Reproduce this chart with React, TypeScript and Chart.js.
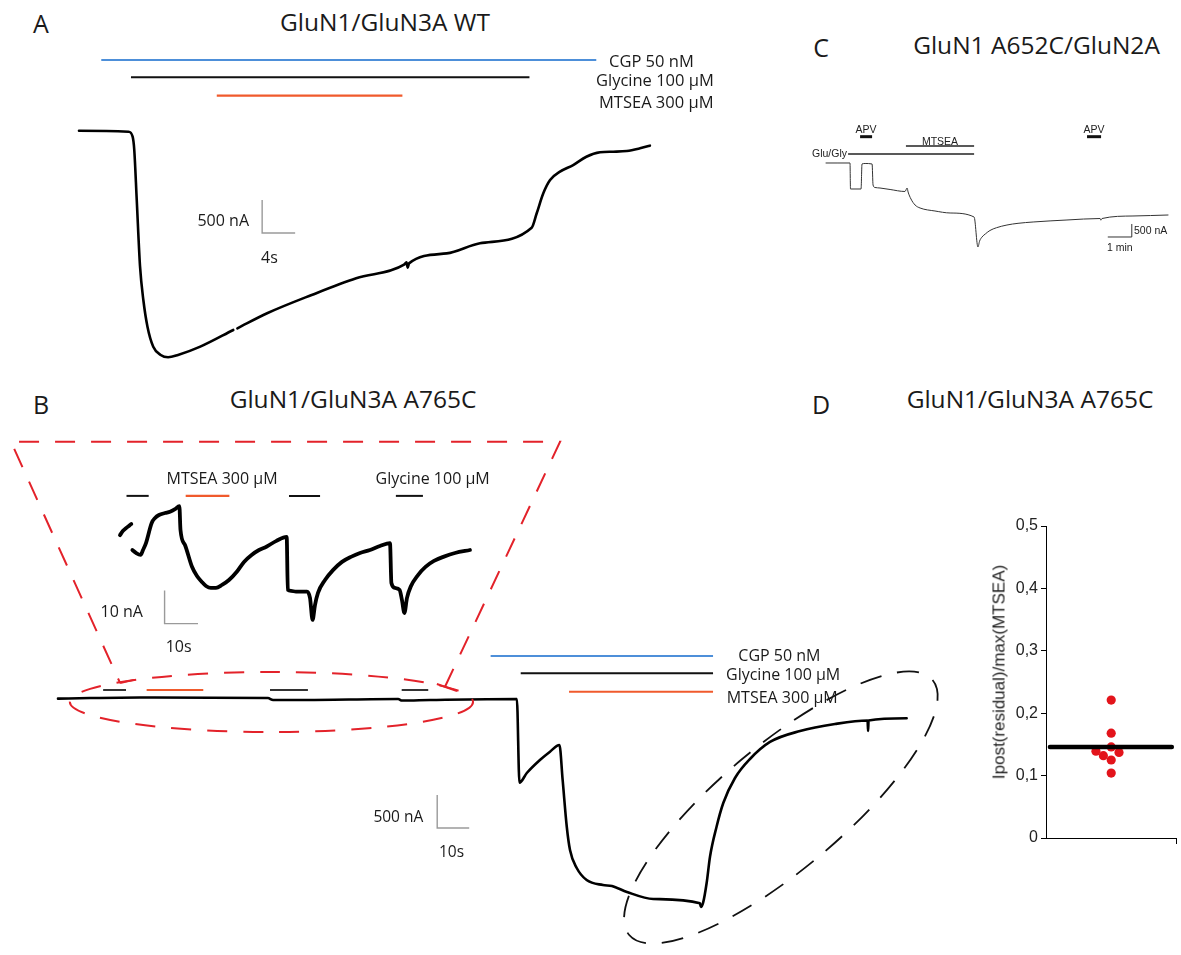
import React, { useEffect, useRef } from "react";
import { Chart, registerables } from "chart.js";
Chart.register(...registerables);

// ---------------- Panel A : GluN1/GluN3A WT (time s, current nA) ----------------
const A_T = [0, 6.0, 6.5, 6.7, 7.0, 7.4, 7.8, 8.3, 9.0, 9.9, 10.8, 12.0, 14.7, 18.7, 18.9, 19.2, 22.8, 28.2, 33.6, 39.4, 39.7, 39.85, 40.0, 44.57, 48.6, 54.87, 55.48, 56.28, 57.1, 58.3, 59.9, 61.5, 63.15, 64.76, 66.4, 68.0, 69.2];
const A_I = [0, -15, -91, -292, -1050, -2060, -2565, -2969, -3272, -3398, -3433, -3398, -3272, -3019, null, -2994, -2766, -2489, -2236, -2030, -1995, -2075, -2010, -1859, -1706, -1470, -1251, -948, -747, -621, -520, -394, -327, -318, -308, -267, -227];
const A_CGP = [2.7, 62.7];
const A_GLY = [6.3, 54.6];
const A_MTSEA = [16.7, 39.2];
const A_BAR_LEVELS = [1071, 809, 530];
const A_SCALE_T = [22.2, 26.2]; // 4 s
const A_SCALE_I = [-1050, -1550]; // 500 nA

// ---------------- Panel B : GluN1/GluN3A A765C main trace ----------------
const B_T = [0, 10, 25.6, 65.6, 67.2, 75.6, 106.3, 107.5, 116.3, 143.4, 144.2, 146.5, 150.6, 153.75, 156.7, 157.7, 159, 160, 162.1, 165.2, 170.3, 173.1, 177.8, 186, 200.6, 200.9, 201.6, 202.7, 203.75, 205.8, 207.9, 211.56, 216.25, 222.5, 231.9, 242.8, 253.0, 253.15, 253.3, 265.2];
const B_I = [5, 15, 23, 15, -15, -15, 0, -23, -15, 0, -1268, -1121, -924, -798, -697, -1227, -1939, -2288, -2560, -2742, -2818, -2833, -2924, -3030, -3095, -3151, -3086, -2788, -2389, -1935, -1576, -1197, -909, -651, -485, -379, -326, -485, -326, -292];
const B_CGP = [135.2, 204.7];
const B_GLY = [144.6, 204.7];
const B_MTSEA = [159.7, 204.7];
const B_BAR_LEVELS = [651, 389, 111];
const B_SMALL_GLY = [[14.1, 21.25], [66.25, 78.1], [107.4, 115.7]];
const B_SMALL_MTSEA = [27.7, 45.4];
const B_SMALL_LEVEL = 136;
const B_SCALE_T = [118.5, 128.5]; // 10 s
const B_SCALE_I = [-1454, -1954]; // 500 nA

// ---------------- Panel B inset (time s, current nA, relative) ----------------
const IN_T = [0, 0.9, 2.28, 3.0, 3.38, 3.5, 3.71, 4.79, 6.17, 6.89, 7.78, 9.49, 10.5, 11.68, 13.47, 14.97, 16.47, 17.78, 18.11, 19.46, 21.56, 23.05, 24.43, 25.75, 27.22, 28.74, 30.54, 32.63, 34.97, 37.13, 39.4, 41.62, 43.83, 46.71, 49.91, 50.25, 51.2, 52.69, 55.99, 56.89, 57.66, 58.38, 59.28, 61.38, 63.77, 66.47, 69.31, 71.86, 74.85, 77.84, 80.84, 81.26, 82.34, 83.71, 84.43, 85.15, 85.93, 87.04, 89.22, 91.47, 94.01, 97.0, 100.3, 104.79];
const IN_I = [4.5, 5.8, 7.0, 7.6, 7.9, null, 0, -0.9, -1.5, 0, 2.1, 8.2, 9.7, 10.6, 11.2, 11.6, 12.4, 13.3, 6.1, 1.5, -5.1, -7.9, -9.6, -10.9, -11.5, -11.5, -10.6, -9.1, -6.6, -3.6, -1.5, 0, 1.0, 2.7, 4.0, -12.1, -12.4, -12.6, -12.6, -14.5, -21.2, -16.7, -13.0, -9.1, -6.1, -3.6, -2.0, -0.9, 0, 1.2, 2.1, -10.0, -11.5, -12.1, -15.2, -19.1, -14.5, -11.1, -7.6, -5.1, -3.3, -2.0, -0.9, 0];
const IN_GLY = [[1.95, 8.59], [50.6, 59.9], [82.6, 90.7]];
const IN_MTSEA = [19.67, 32.75];
const IN_BAR_LEVEL = 16.4;
const IN_SCALE_T = [13.35, 23.35]; // 10 s
const IN_SCALE_I = [-12.3, -22.3]; // 10 nA

// ---------------- Panel C : GluN1 A652C/GluN2A (time min, current nA) ----------------
const C_T = [0, 1.0, 1.02, 1.46, 1.5, 1.63, 1.92, 1.96, 2.04, 2.25, 2.67, 3.29, 3.38, 3.42, 3.54, 3.71, 3.92, 4.54, 5.17, 6.17, 6.33, 6.4, 6.5, 6.65, 6.83, 7.1, 7.54, 8.0, 8.63, 10.04, 11.42, 11.45, 11.5, 12.79, 14.25];
const C_I = [0, 0, -1000, -1000, -38, -19, -38, -846, -942, -962, -1019, -1096, -962, -1115, -1385, -1615, -1731, -1846, -1923, -2077, -3231, -3000, -2846, -2720, -2596, -2490, -2385, -2320, -2269, -2192, -2135, -2200, -2135, -2038, -2000];
const C_GLU = [0.92, 6.17];
const C_MTSEA = [3.33, 6.17];
const C_APV = [[1.42, 1.92], [10.875, 11.46]];
const C_LEVELS = [346, 654, 1012];
const C_SCALE_T = [11.74, 12.74]; // 1 min
const C_SCALE_I = [-2346, -2846]; // 500 nA

// ---------------- Panel D : Ipost(residual)/max(MTSEA) ----------------
const D_X = [0.5, 0.5, 0.5, 0.5, 0.5, 0.383, 0.44, 0.56];
const D_Y = [0.221, 0.168, 0.146, 0.125, 0.104, 0.139, 0.132, 0.137];
const D_MEAN = 0.146;
const D_MEAN_X = [0.03, 0.965];
const D_TICKS = [0, 0.1, 0.2, 0.3, 0.4, 0.5];

// ---------------- styles ----------------
const BLUE = "#4d8fd9";
const ORANGE = "#f05a2c";
const RED = "#e3222a";
const INK = "#111111";
const GRAY = "#9a9a9a";
const MYRIAD = "'Open Sans', 'Noto Sans', sans-serif";
const ARIAL = "'Liberation Sans', Arial, sans-serif";

type P = { x: number; y: number | null };
const pts = (ts: number[], is: (number | null)[]): P[] => ts.map((t, i) => ({ x: t, y: is[i] }));
const hseg = (r: number[], v: number): P[] => [{ x: r[0], y: v }, { x: r[1], y: v }];

const line = (data: P[], color: string, width: number, extra: any = {}) => ({
  data,
  borderColor: color,
  borderWidth: width,
  pointRadius: 0,
  fill: false,
  spanGaps: false,
  borderCapStyle: "butt",
  ...extra,
});
const trace = (data: P[], color: string, width: number) =>
  line(data, color, width, { cubicInterpolationMode: "monotone", borderJoinStyle: "round", borderCapStyle: "round" });

type Ell = { c: number[]; a: number[]; b: number[]; color: string; width: number; dash: number[] };
const ellipsePlugin = (items: Ell[]) => ({
  id: "ellipses",
  afterDatasetsDraw(chart: any) {
    const { ctx } = chart;
    const x = chart.scales.x;
    const y = chart.scales.y;
    ctx.save();
    for (const e of items) {
      const cx = x.getPixelForValue(e.c[0]);
      const cy = y.getPixelForValue(e.c[1]);
      const ax = x.getPixelForValue(e.a[0]) - cx;
      const ay = y.getPixelForValue(e.a[1]) - cy;
      const bx = x.getPixelForValue(e.b[0]) - cx;
      const by = y.getPixelForValue(e.b[1]) - cy;
      ctx.beginPath();
      ctx.setLineDash(e.dash);
      ctx.strokeStyle = e.color;
      ctx.lineWidth = e.width;
      ctx.ellipse(cx, cy, Math.hypot(ax, ay), Math.hypot(bx, by), Math.atan2(ay, ax), 0, Math.PI * 2);
      ctx.stroke();
    }
    ctx.restore();
  },
});

type Frame = { left: number; top: number; w: number; h: number; x: number[]; y: number[] };

function TraceChart({ frame, datasets, ellipses = [] }: { frame: Frame; datasets: any[]; ellipses?: Ell[] }) {
  const ref = useRef<HTMLCanvasElement>(null);
  useEffect(() => {
    const chart = new Chart(ref.current as HTMLCanvasElement, {
      type: "line",
      data: { datasets },
      options: {
        animation: false,
        responsive: false,
        maintainAspectRatio: false,
        events: [],
        layout: { padding: 0 },
        plugins: { legend: { display: false }, tooltip: { enabled: false } },
        scales: {
          x: { type: "linear", display: false, min: frame.x[0], max: frame.x[1] },
          y: { type: "linear", display: false, min: frame.y[0], max: frame.y[1] },
        },
      } as any,
      plugins: [ellipsePlugin(ellipses)] as any,
    });
    return () => chart.destroy();
  }, []);
  return (
    <canvas
      ref={ref}
      width={frame.w}
      height={frame.h}
      style={{ position: "absolute", left: frame.left, top: frame.top, width: frame.w, height: frame.h }}
    />
  );
}

function DotChart() {
  const ref = useRef<HTMLCanvasElement>(null);
  useEffect(() => {
    const chart = new Chart(ref.current as HTMLCanvasElement, {
      type: "scatter",
      data: {
        datasets: [
          {
            type: "line",
            data: hseg(D_MEAN_X, D_MEAN),
            borderColor: "#000",
            borderWidth: 4.5,
            borderCapStyle: "round",
            pointRadius: 0,
            order: 0,
          },
          {
            data: pts(D_X, D_Y),
            backgroundColor: "#e3141b",
            borderWidth: 0,
            pointRadius: 4.6,
            order: 1,
          },
        ],
      } as any,
      options: {
        animation: false,
        responsive: false,
        maintainAspectRatio: false,
        events: [],
        layout: { padding: { top: 26, right: 1, left: 0, bottom: 0 } },
        plugins: { legend: { display: false }, tooltip: { enabled: false } },
        scales: {
          x: {
            type: "linear",
            min: 0,
            max: 1,
            afterFit: (s: any) => { s.height = 22; },
            afterBuildTicks: (s: any) => { s.ticks = [{ value: 0 }, { value: 1 }]; },
            ticks: { callback: () => "", padding: 0 },
            border: { display: true, color: "#000", width: 1 },
            grid: {
              display: true,
              drawOnChartArea: false,
              drawTicks: true,
              tickLength: 6,
              color: (c: any) => (c.tick && c.tick.value === 1 ? "#000" : "rgba(0,0,0,0)"),
            },
          },
          y: {
            type: "linear",
            min: 0,
            max: 0.5,
            afterFit: (s: any) => { s.width = 86; },
            afterBuildTicks: (s: any) => { s.ticks = D_TICKS.map((v) => ({ value: v })); },
            ticks: {
              callback: (v: any) => (Number(v) === 0 ? "0" : Number(v).toFixed(1).replace(".", ",")),
              font: { family: ARIAL, size: 16 },
              color: "#222",
              padding: 3,
            },
            border: { display: true, color: "#000", width: 1 },
            grid: { display: true, drawOnChartArea: false, drawTicks: true, tickLength: 5, color: "#000" },
          },
        },
      } as any,
    });
    return () => chart.destroy();
  }, []);
  return (
    <canvas ref={ref} width={221} height={360} style={{ position: "absolute", left: 960, top: 500, width: 221, height: 360 }} />
  );
}

function Txt({ x, y, s, f = MYRIAD, a = "left", c = "#1a1a1a", r = 0, children }: any) {
  const tx = a === "left" ? "0" : a === "center" ? "-50%" : "-100%";
  return (
    <div
      style={{
        position: "absolute",
        left: x,
        top: y,
        fontFamily: f,
        fontSize: s,
        lineHeight: 1,
        whiteSpace: "nowrap",
        color: c,
        transform: `translate(${r ? "-50%" : tx}, -50%)${r ? ` rotate(${r}deg)` : ""}`,
      }}
    >
      {children}
    </div>
  );
}

const FRAME_A: Frame = { left: 40, top: 40, w: 680, h: 340, x: [-4.727, 77.697], y: [-3776.9, 1374.1] };
const FRAME_B: Frame = { left: 0, top: 430, w: 960, h: 525, x: [-18.125, 281.875], y: [-3878.4, 4075.4] };
const FRAME_IN: Frame = { left: 90, top: 455, w: 420, h: 200, x: [-8.98, 116.77], y: [-31.82, 28.79] };
const FRAME_C: Frame = { left: 790, top: 100, w: 391, h: 180, x: [-1.5, 14.79], y: [-4500, 2423] };

export default function App() {
  const dsA = [
    line(hseg(A_CGP, A_BAR_LEVELS[0]), BLUE, 2),
    line(hseg(A_GLY, A_BAR_LEVELS[1]), INK, 2),
    line(hseg(A_MTSEA, A_BAR_LEVELS[2]), ORANGE, 2.2),
    trace(pts(A_T, A_I), "#000", 2.6),
    line([{ x: A_SCALE_T[0], y: A_SCALE_I[0] }, { x: A_SCALE_T[0], y: A_SCALE_I[1] }, { x: A_SCALE_T[1], y: A_SCALE_I[1] }], GRAY, 1.4),
  ];

  const dsB = [
    // zoom trapezoid (red dashed)
    line([{ x: 120.9, y: 182 }, { x: 156.9, y: 3898 }, { x: -14.7, y: 3898 }, { x: 19.4, y: 242 }], RED, 2, { borderDash: [20, 16] }),
    line([{ x: 19.4, y: 242 }, { x: 23.75, y: 290 }], RED, 2),
    line([{ x: 118.4, y: 227 }, { x: 124.7, y: 121 }], RED, 2),
    line(hseg(B_CGP, B_BAR_LEVELS[0]), BLUE, 2),
    line(hseg(B_GLY, B_BAR_LEVELS[1]), INK, 2),
    line(hseg(B_MTSEA, B_BAR_LEVELS[2]), ORANGE, 2),
    ...B_SMALL_GLY.map((r) => line(hseg(r, B_SMALL_LEVEL), "#333", 2)),
    line(hseg(B_SMALL_MTSEA, B_SMALL_LEVEL), ORANGE, 2),
    trace(pts(B_T, B_I), "#000", 2.6),
    line([{ x: B_SCALE_T[0], y: B_SCALE_I[0] }, { x: B_SCALE_T[0], y: B_SCALE_I[1] }, { x: B_SCALE_T[1], y: B_SCALE_I[1] }], GRAY, 1.4),
  ];
  const ellB: Ell[] = [
    { c: [66.7, -45], a: [129.7, -45], b: [66.7, 409.5], color: RED, width: 2, dash: [20, 16] },
    { c: [225.9, -1644], a: [273.3, 288], b: [213.4, -926], color: "#111", width: 1.8, dash: [22, 16] },
  ];

  const dsIn = [
    ...IN_GLY.map((r) => line(hseg(r, IN_BAR_LEVEL), INK, 2)),
    line(hseg(IN_MTSEA, IN_BAR_LEVEL), ORANGE, 2.2),
    trace(pts(IN_T, IN_I), "#000", 3.8),
    line([{ x: IN_SCALE_T[0], y: IN_SCALE_I[0] }, { x: IN_SCALE_T[0], y: IN_SCALE_I[1] }, { x: IN_SCALE_T[1], y: IN_SCALE_I[1] }], GRAY, 1.4),
  ];

  const dsC = [
    line(hseg(C_GLU, C_LEVELS[0]), "#222", 1.3),
    line(hseg(C_MTSEA, C_LEVELS[1]), "#222", 1.3),
    ...C_APV.map((r) => line(hseg(r, C_LEVELS[2]), "#111", 3)),
    trace(pts(C_T, C_I), "#333", 1),
    line([{ x: C_SCALE_T[0], y: C_SCALE_I[1] }, { x: C_SCALE_T[1], y: C_SCALE_I[1] }, { x: C_SCALE_T[1], y: C_SCALE_I[0] }], "#333", 1),
  ];

  return (
    <div style={{ position: "absolute", left: 0, top: 0, width: 1181, height: 955, background: "#fff", overflow: "hidden" }}>
      <TraceChart frame={FRAME_A} datasets={dsA} />
      <TraceChart frame={FRAME_B} datasets={dsB} ellipses={ellB} />
      <TraceChart frame={FRAME_IN} datasets={dsIn} />
      <TraceChart frame={FRAME_C} datasets={dsC} />
      <DotChart />

      {/* Panel A */}
      <Txt x={40.8} y={22.5} s={25} a="center">A</Txt>
      <Txt x={385} y={21.5} s={24.5} a="center">GluN1/GluN3A WT</Txt>
      <Txt x={609} y={61} s={16.5}>CGP 50 nM</Txt>
      <Txt x={596} y={80} s={16.5}>Glycine 100 µM</Txt>
      <Txt x={599} y={102} s={16.5}>MTSEA 300 µM</Txt>
      <Txt x={249} y={220} s={16} a="right">500 nA</Txt>
      <Txt x={261} y={257} s={16}>4s</Txt>

      {/* Panel B */}
      <Txt x={41} y={404} s={25} a="center">B</Txt>
      <Txt x={353} y={399} s={24.5} a="center">GluN1/GluN3A A765C</Txt>
      <Txt x={166.5} y={478} s={16}>MTSEA 300 µM</Txt>
      <Txt x={375.5} y={478} s={16}>Glycine 100 µM</Txt>
      <Txt x={100.6} y={611} s={16}>10 nA</Txt>
      <Txt x={165.7} y={646} s={16}>10s</Txt>
      <Txt x={738.3} y={654.5} s={16}>CGP 50 nM</Txt>
      <Txt x={726} y={674} s={16}>Glycine 100 µM</Txt>
      <Txt x={726.7} y={697} s={16}>MTSEA 300 µM</Txt>
      <Txt x={423.3} y={817} s={15.5} a="right">500 nA</Txt>
      <Txt x={439} y={852} s={15.5}>10s</Txt>

      {/* Panel C */}
      <Txt x={821} y={47} s={25} a="center">C</Txt>
      <Txt x={1036.5} y={45} s={24.5} a="center">GluN1 A652C/GluN2A</Txt>
      <Txt x={866} y={129} s={10.5} f={ARIAL} a="center" c="#222">APV</Txt>
      <Txt x={1094} y={129} s={10.5} f={ARIAL} a="center" c="#222">APV</Txt>
      <Txt x={940} y={140.5} s={10.5} f={ARIAL} a="center" c="#222">MTSEA</Txt>
      <Txt x={847} y={152.5} s={10.5} f={ARIAL} a="right" c="#222">Glu/Gly</Txt>
      <Txt x={1134} y={230} s={10.5} f={ARIAL} c="#222">500 nA</Txt>
      <Txt x={1107} y={246.5} s={10.5} f={ARIAL} c="#222">1 min</Txt>

      {/* Panel D */}
      <Txt x={821} y={404} s={25} a="center">D</Txt>
      <Txt x={1030} y={399} s={24.5} a="center">GluN1/GluN3A A765C</Txt>
      <Txt x={999} y={672} s={17} f={ARIAL} r={-90} c="#222">Ipost(residual)/max(MTSEA)</Txt>
    </div>
  );
}
